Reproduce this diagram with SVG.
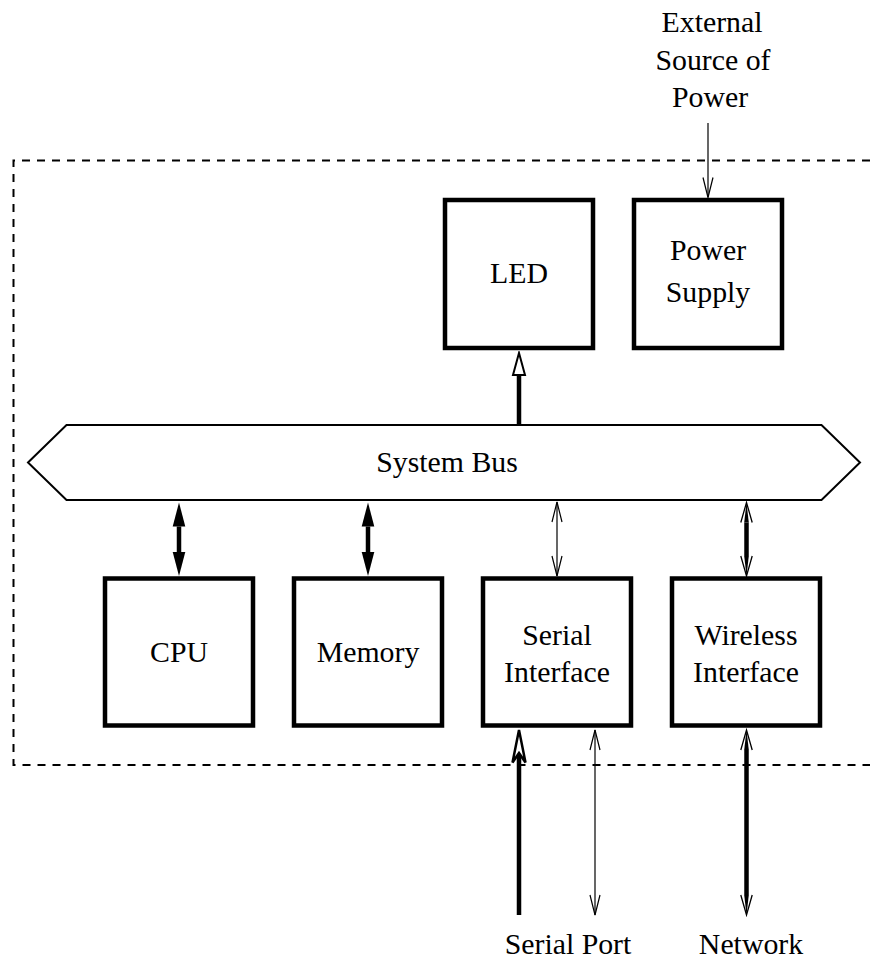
<svg xmlns="http://www.w3.org/2000/svg" width="870" height="959" viewBox="0 0 870 959">
<style>
.box{fill:#fff;stroke:#000;stroke-width:4.5}
.bus{fill:#fff;stroke:#000;stroke-width:2;stroke-linejoin:miter}
.bound{fill:none;stroke:#000;stroke-width:2;stroke-dasharray:8 7}
.t{font-family:"Liberation Serif","Times New Roman",serif;font-size:29.8px;fill:#000;text-anchor:middle}
.thick{stroke:#000;stroke-width:4.5;fill:none}
.thin{stroke:#000;stroke-width:1.2;fill:none}
</style>
<defs>
<marker id="fh" markerUnits="userSpaceOnUse" viewBox="0 -8 26 16" markerWidth="26" markerHeight="16" refX="0" refY="0" orient="auto-start-reverse">
<path d="M0,-6.3 L24,0 L0,6.3 Z" fill="#000"/>
</marker>
<marker id="vthin" markerUnits="userSpaceOnUse" viewBox="-2 -7 24 14" markerWidth="24" markerHeight="14" refX="20" refY="0" orient="auto-start-reverse">
<path d="M0,-5 L20,0 L0,5" fill="none" stroke="#000" stroke-width="1.2"/>
</marker>
<marker id="vthick" markerUnits="userSpaceOnUse" viewBox="-2 -7 24 14" markerWidth="24" markerHeight="14" refX="0" refY="0" orient="auto-start-reverse">
<path d="M0,-2.3 L20,0 L0,2.3 Z" fill="#000"/>
<path d="M0,-5.7 L20,0 L0,5.7" fill="none" stroke="#000" stroke-width="1.3"/>
</marker>
<marker id="otri" markerUnits="userSpaceOnUse" viewBox="-2 -8 26 16" markerWidth="26" markerHeight="16" refX="0" refY="0" orient="auto">
<path d="M0,-6 L22,0 L0,6 Z" fill="#fff" stroke="#000" stroke-width="2"/>
</marker>
<marker id="onotch" markerUnits="userSpaceOnUse" viewBox="-13 -9 38 18" markerWidth="38" markerHeight="18" refX="0" refY="0" orient="auto">
<path d="M23,0 L-9.5,-6.5 L0,0 L-9.5,6.5 Z" fill="#fff" stroke="#000" stroke-width="2.5" stroke-linejoin="miter"/>
</marker>
</defs>

<g id="boundary">
<path class="bound" d="M870,160.5 H13.5 V765 H870"/>
</g>

<g id="external-label">
<text class="t" x="712" y="32">External</text>
<text class="t" x="713" y="70">Source of</text>
<text class="t" x="710" y="107">Power</text>
</g>

<g id="led">
<rect class="box" x="445" y="200" width="148" height="148"/>
<text class="t" x="519" y="283">LED</text>
</g>

<g id="power-supply">
<rect class="box" x="634" y="200" width="148" height="148"/>
<text class="t" x="708" y="260">Power</text>
<text class="t" x="708" y="302">Supply</text>
</g>

<g id="system-bus">
<path class="bus" d="M28,462.5 L66.5,425 L821.5,425 L860,462.5 L821.5,500 L66.5,500 Z"/>
<text class="t" x="447" y="472">System Bus</text>
</g>

<g id="cpu">
<rect class="box" x="105" y="578.5" width="148" height="147"/>
<text class="t" x="179" y="662">CPU</text>
</g>

<g id="memory">
<rect class="box" x="294" y="578.5" width="148" height="147"/>
<text class="t" x="368" y="662">Memory</text>
</g>

<g id="serial-interface">
<rect class="box" x="483" y="578.5" width="148" height="147"/>
<text class="t" x="557" y="645">Serial</text>
<text class="t" x="557" y="682">Interface</text>
</g>

<g id="wireless-interface">
<rect class="box" x="672" y="578.5" width="148" height="147"/>
<text class="t" x="746" y="645">Wireless</text>
<text class="t" x="746" y="682">Interface</text>
</g>

<g id="port-labels">
<text class="t" x="568" y="954">Serial Port</text>
<text class="t" x="751" y="954">Network</text>
</g>

<g id="connectors">
<line class="thin" x1="708" y1="123" x2="708" y2="197.5" marker-end="url(#vthin)"/>
<line class="thick" x1="519" y1="425" x2="519" y2="375" marker-end="url(#otri)"/>
<line class="thick" x1="179" y1="526.5" x2="179" y2="552" marker-start="url(#fh)" marker-end="url(#fh)"/>
<line class="thick" x1="368" y1="526.5" x2="368" y2="552" marker-start="url(#fh)" marker-end="url(#fh)"/>
<line class="thin" x1="557" y1="502" x2="557" y2="576" marker-start="url(#vthin)" marker-end="url(#vthin)"/>
<line class="thick" x1="746.5" y1="522.5" x2="746.5" y2="556" marker-start="url(#vthick)" marker-end="url(#vthick)"/>
<line class="thick" x1="519" y1="915" x2="519" y2="753" marker-end="url(#onotch)"/>
<line class="thin" x1="595" y1="730" x2="595" y2="915" marker-start="url(#vthin)" marker-end="url(#vthin)"/>
<line class="thick" x1="746.5" y1="750" x2="746.5" y2="895" marker-start="url(#vthick)" marker-end="url(#vthick)"/>
</g>
</svg>
